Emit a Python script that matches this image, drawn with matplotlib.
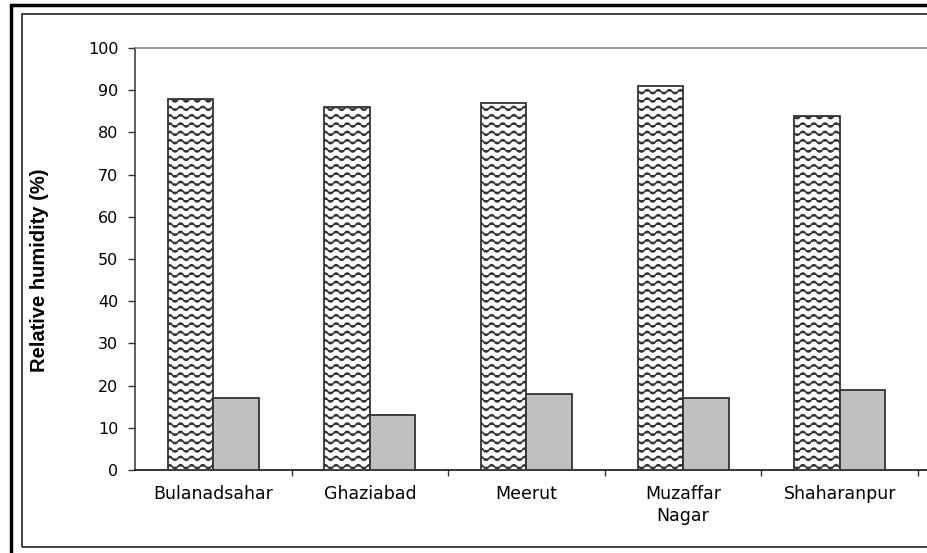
import warnings
import numpy as np
import matplotlib
matplotlib.use("Agg")
import matplotlib.pyplot as plt
import matplotlib.hatch as mhatch
from matplotlib.path import Path
from matplotlib.patches import Rectangle

warnings.filterwarnings("ignore")

districts = ['Bulanadsahar', 'Ghaziabad', 'Meerut', 'Muzaffar\nNagar', 'Shaharanpur']
rh_max = [88, 86, 87, 91, 84]
rh_min = [17, 13, 18, 17, 19]
y_ticks = [0, 10, 20, 30, 40, 50, 60, 70, 80, 90, 100]


class WaveHatch(mhatch.HatchPatternBase):
    # wavy lines, one row per '~' times density
    def __init__(self, hatch, density):
        self.num_rows = hatch.count('~') * density
        self.num_waves = 9
        self.seg = 12
        self.per_row = self.num_waves * self.seg + 1
        if self.num_rows:
            self.num_vertices = (self.num_rows + 1) * self.per_row
        else:
            self.num_vertices = 0

    def set_vertices_and_codes(self, vertices, codes):
        xs = np.linspace(0, 1, self.per_row)
        s = np.sin(2 * np.pi * self.num_waves * xs)
        # a bit sharper than a plain sine, closer to a zigzag
        wave = 0.02 * np.sign(s) * np.abs(s) ** 0.7
        for i in range(self.num_rows + 1):
            sl = slice(i * self.per_row, (i + 1) * self.per_row)
            vertices[sl, 0] = xs
            vertices[sl, 1] = i / self.num_rows + wave
            codes[sl] = Path.LINETO
            codes[i * self.per_row] = Path.MOVETO


mhatch._hatch_types.append(WaveHatch)

plt.rcParams['hatch.linewidth'] = 1.1
plt.rcParams['font.family'] = 'DejaVu Sans'

fig = plt.figure(figsize=(9.28, 5.53), dpi=100)
ax = fig.add_axes([135 / 928, 1 - 470 / 553, 793 / 928, 422 / 553])

x = np.arange(len(districts))
w = 0.29
ax.bar(x - w, rh_max, width=w, align='edge', facecolor='white',
       edgecolor='#333333', linewidth=1.3, hatch='~~', zorder=3)
ax.bar(x, rh_min, width=w, align='edge', facecolor='#c0c0c0',
       edgecolor='#333333', linewidth=1.3, zorder=3)

ax.set_ylim(0, 100)
ax.set_xlim(-0.5, 4.5 + 10 / 156.6)
ax.set_yticks(y_ticks)
ax.tick_params(axis='y', length=5, width=1, color='#333333', pad=7,
               labelsize=11.5)

ax.set_xticks(x)
ax.set_xticklabels(districts, fontsize=12.5, linespacing=1.25)
ax.set_xticks(np.arange(len(districts)) + 0.5, minor=True)
ax.tick_params(axis='x', which='major', length=0, pad=11)
ax.tick_params(axis='x', which='minor', length=4, width=1, color='#333333')

ax.spines['left'].set_color('#333333')
ax.spines['bottom'].set_color('black')
ax.spines['top'].set_color('#808080')
ax.spines['right'].set_visible(False)
for s in ax.spines.values():
    s.set_linewidth(1.1)

ax.set_ylabel('Relative humidity (%)', fontsize=14.5, fontweight='bold',
              family='Liberation Sans')
ax.yaxis.set_label_coords(-0.108, 0.474)

# outer frames
fig.add_artist(Rectangle((11 / 928, -0.1), 1.2, (553 - 5) / 553 + 0.1,
                         transform=fig.transFigure, fill=False,
                         edgecolor='black', linewidth=2.5))
fig.add_artist(Rectangle((22 / 928, 1 - 547 / 553), 1.2, (547 - 14) / 553,
                         transform=fig.transFigure, fill=False,
                         edgecolor='#222222', linewidth=1.2))

plt.savefig("out.png", dpi=100)
